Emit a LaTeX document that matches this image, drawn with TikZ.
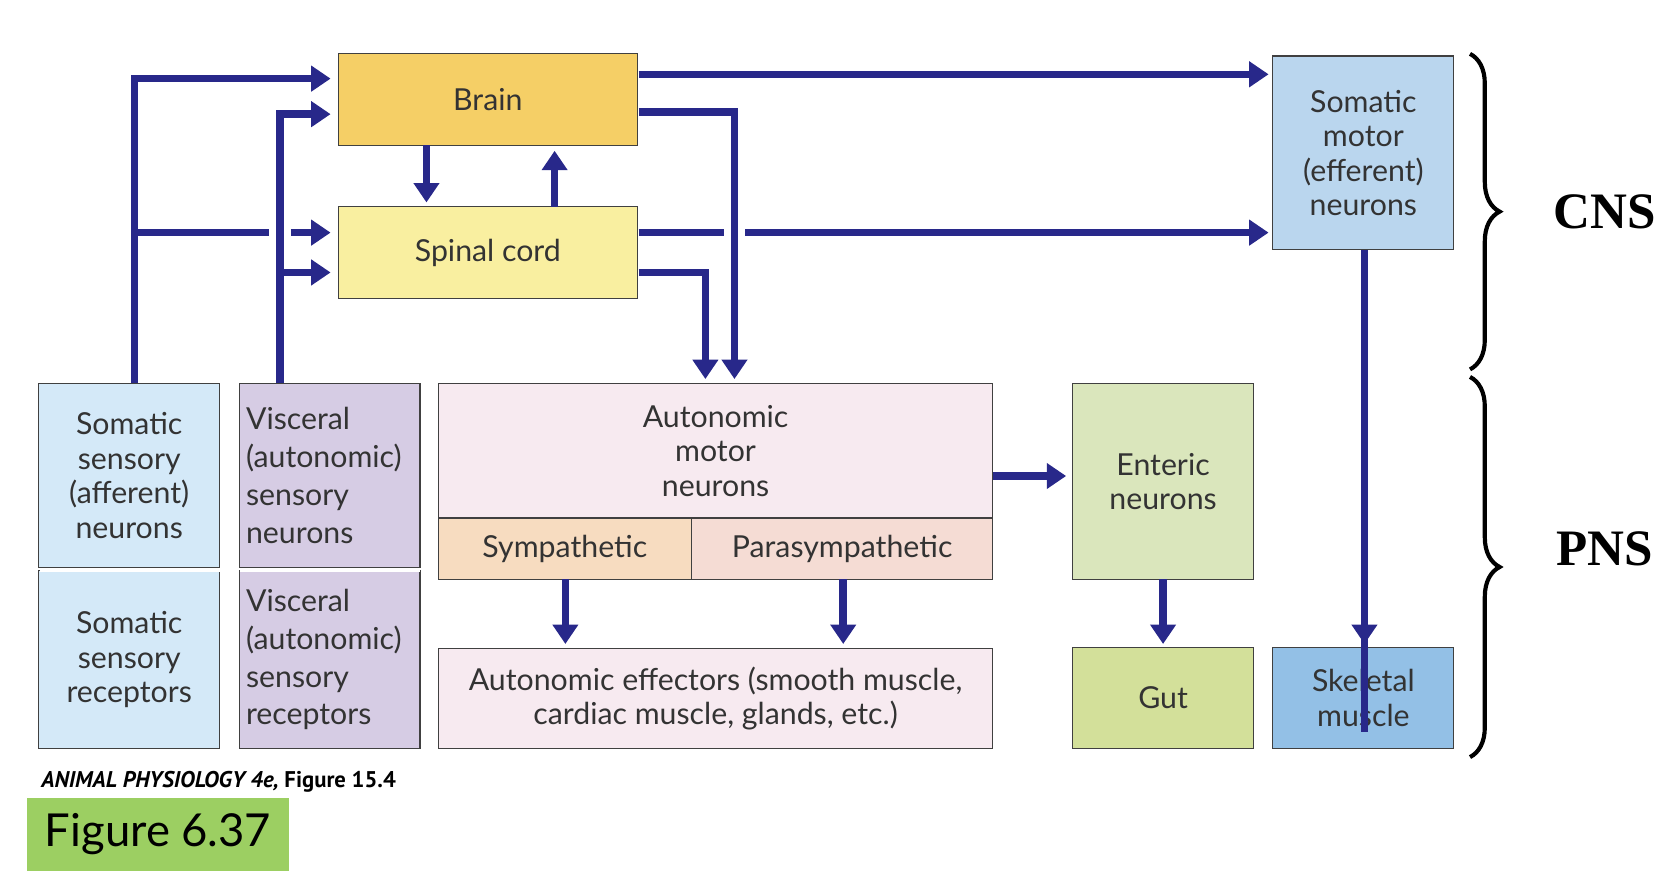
\documentclass[tikz,border=0pt]{standalone}
\usepackage{fontspec}
\setmainfont{Lato}
\newfontfamily\capfont{PT Sans}
\newfontfamily\serfont{Liberation Serif}
\usetikzlibrary{arrows.meta,decorations.pathreplacing}
\definecolor{navy}{HTML}{28288A}
\definecolor{brainc}{HTML}{F5CF66}
\definecolor{spinalc}{HTML}{F9EFA0}
\definecolor{smotorc}{HTML}{BAD6EE}
\definecolor{ssensec}{HTML}{D4E9F8}
\definecolor{viscc}{HTML}{D6CCE4}
\definecolor{autoc}{HTML}{F7EAF0}
\definecolor{sympc}{HTML}{F7DCC0}
\definecolor{parac}{HTML}{F5DCD4}
\definecolor{enterc}{HTML}{DAE6BC}
\definecolor{gutc}{HTML}{D3E09A}
\definecolor{skelc}{HTML}{93C0E6}
\definecolor{figc}{HTML}{9CCF62}
\tikzset{box/.style={draw=black!75,line width=0.6pt,anchor=north west,inner sep=0pt,outer sep=0pt,
    align=center,font=\fontsize{16}{18.2}\selectfont,text=black!80},
  pathway/.style={draw=navy,line width=4pt},
  arrow/.style={pathway,-{Triangle[length=0.36cm,width=0.46cm]}},
  side label/.style={font=\serfont\fontsize{27}{30}\selectfont\bfseries}}

\begin{document}
\begin{tikzpicture}[x=0.02cm,y=-0.02cm]
\useasboundingbox (0,0) rectangle (1560,815);

%% boxes
\node [box,fill=brainc,minimum width=5.56cm,minimum height=1.7cm] (brain) at (314,50) {Brain};
\node [box,fill=spinalc,minimum width=5.56cm,minimum height=1.7cm] (spinal) at (314,192) {Spinal cord};
\node [box,fill=smotorc,minimum width=3.36cm,minimum height=3.6cm] (smotor) at (1182,52) {Somatic\\motor\\(efferent)\\neurons};
\node [box,fill=ssensec,minimum width=3.36cm,minimum height=3.42cm] (ssense) at (36,356) {Somatic\\sensory\\(afferent)\\neurons};
\node [box,fill=ssensec,minimum width=3.36cm,minimum height=3.3cm] (srecep) at (36,530) {Somatic\\sensory\\receptors};
\node [box,fill=viscc,minimum width=3.36cm,minimum height=3.42cm,align=left,text width=3.1cm,font=\fontsize{16}{20}\selectfont] (vsense) at (222,356) {Visceral\\(autonomic)\\sensory\\neurons};
\node [box,fill=viscc,minimum width=3.36cm,minimum height=3.3cm,align=left,text width=3.1cm,font=\fontsize{16}{20}\selectfont] (vrecep) at (222,530) {Visceral\\(autonomic)\\sensory\\receptors};
\node [box,fill=autoc,minimum width=10.3cm,minimum height=2.5cm] (auto) at (407,356) {Autonomic\\motor\\neurons};
\node [box,fill=sympc,minimum width=4.7cm,minimum height=1.14cm] (symp) at (407,481) {Sympathetic};
\node [box,fill=parac,minimum width=5.6cm,minimum height=1.14cm] (para) at (642,481) {Parasympathetic};
\node [box,fill=autoc,minimum width=10.3cm,minimum height=1.86cm] (effect) at (407,602) {Autonomic effectors (smooth muscle,\\cardiac muscle, glands, etc.)};
\node [box,fill=enterc,minimum width=3.36cm,minimum height=3.64cm] (enteric) at (996,356) {Enteric\\neurons};
\node [box,fill=gutc,minimum width=3.36cm,minimum height=1.88cm] (gut) at (996,601) {Gut};
\node [box,fill=skelc,minimum width=3.36cm,minimum height=1.88cm] (skel) at (1182,601) {Skeletal\\muscle};
\draw [white,line width=2pt] (37,529) -- (204,529) (223,529) -- (390,529);

%% sensory inputs
\coordinate (s1) at (125,356);
\coordinate (s2) at (125,216);
\coordinate (v1) at (260,356);
\draw [arrow] (s1) |- (307,73);
\draw [pathway] (s2) -- (250,216);
\draw [arrow] (270,216) -- (307,216);
\draw [arrow] (v1) |- (307,106);
\draw [arrow] (260,253) -- (307,253);

%% brain and spinal cord
\draw [arrow] (396,135) -- (396,188);
\draw [arrow] (515,192) -- (515,140);
\draw [arrow] (593,69) -- (1178,69);
\draw [pathway] (593,216) -- (672,216);
\draw [arrow] (692,216) -- (1178,216);
\draw [arrow] (593,104) -| (682,352);
\draw [arrow] (593,253) -| (655,352);

%% motor outputs
\draw [pathway] (1267,232) -- (1267,680);
\draw [arrow] (1267,560) -- (1267,598);
\draw [arrow] (922,442) -- (990,442);
\draw [arrow] (525,538) -- (525,598);
\draw [arrow] (783,538) -- (783,598);
\draw [arrow] (1080,538) -- (1080,598);

%% braces
\draw [decorate,decoration={brace,amplitude=0.55cm},line width=2.2pt] (1365,50) -- (1365,343);
\draw [decorate,decoration={brace,amplitude=0.55cm},line width=2.2pt] (1365,350) -- (1365,703);
\node [side label] (cns) at (1490,197) {CNS};
\node [side label] (pns) at (1490,510) {PNS};

%% caption
\node [anchor=west,inner sep=0pt,font=\capfont\fontsize{12}{14}\selectfont\bfseries] (src) at (38,726) {\itshape ANIMAL PHYSIOLOGY 4e, \upshape Figure 15.4};
\node [anchor=north west,fill=figc,minimum width=4.86cm,minimum height=1.34cm,inner sep=0pt,font=\fontsize{24}{28}\selectfont] (fig) at (25,741) {Figure 6.37};
\end{tikzpicture}
\end{document}
